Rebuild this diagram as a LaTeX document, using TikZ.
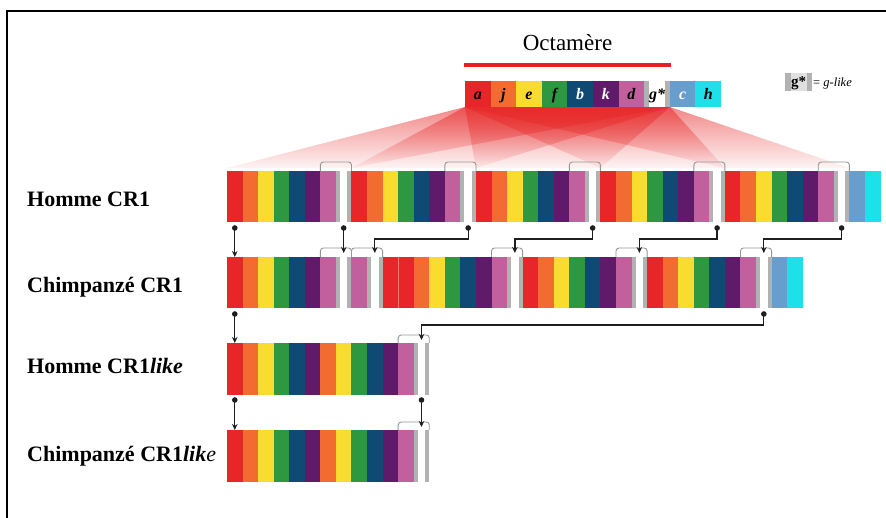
\documentclass[tikz,border=0pt]{standalone}
\usepackage{fontspec}
\setmainfont{Liberation Serif}
\usetikzlibrary{arrows.meta,fadings}
\definecolor{ca}{RGB}{232,38,42}
\definecolor{cj}{RGB}{242,107,48}
\definecolor{ce}{RGB}{249,220,46}
\definecolor{cf}{RGB}{46,152,64}
\definecolor{cb}{RGB}{14,74,116}
\definecolor{ck}{RGB}{96,26,106}
\definecolor{cd}{RGB}{194,96,158}
\definecolor{cg}{RGB}{178,178,178}
\definecolor{cc}{RGB}{104,158,206}
\definecolor{ch}{RGB}{30,224,232}
\definecolor{linkc}{RGB}{30,30,30}
\definecolor{brkc}{RGB}{150,150,150}
\definecolor{fanc}{RGB}{232,40,40}
\definecolor{octred}{RGB}{236,30,36}
\tikzfading[name=fandown, top color=transparent!45, bottom color=transparent!95]
\def\cw{15.56}
\def\gletter{g}
\newcommand\cellrow[4]{%
  \foreach \cod [count=\i from 0] in {#4} {
    \pgfmathsetmacro\xa{#1+\i*\cw}
    \pgfmathsetmacro\xb{\xa+\cw}
    \fill[fill=c\cod] (\xa,#2) rectangle (\xb,#3);
    \ifx\cod\gletter
      \fill[white] (\xa+4,#2) rectangle (\xb-4,#3);
    \fi
  }%
}
\newcommand\bracketat[4]{% x0, index of d, ybar, ytop
  \draw[brkline] ({#1+#2*\cw},#3) -- ({#1+#2*\cw},#4) -- ({#1+(#2+2)*\cw},#4) -- ({#1+(#2+2)*\cw},#3);
}
\tikzset{
  lab/.style={font=\fontsize{22}{26}\selectfont\bfseries, inner sep=0pt, anchor=base west},
  octl/.style={font=\fontsize{16}{19}\selectfont\bfseries\itshape, inner sep=0pt, anchor=base},
  link/.style={draw=linkc, line width=1.3pt, -{Stealth[length=6pt,width=5.5pt]}},
  linkdot/.style={fill=linkc},
  brkline/.style={draw=brkc, line width=0.9pt, rounded corners=3pt},
  fan/.style={fill=fanc, path fading=fandown},
}
\begin{document}
\begin{tikzpicture}[x=1pt,y=-1pt]
\useasboundingbox (0,0) rectangle (886,518);
\fill[white] (0,0) rectangle (886,518);
\def\xo{227}
% fans
\foreach \u in {0,...,4} {
  \fill[fan] (465,107) -- (670,107) -- ({\xo+(\u+1)*8*\cw},168) -- ({\xo+\u*8*\cw},168) -- cycle;
}
% octamer title
\node[font=\fontsize{23}{27}\selectfont, inner sep=0pt, anchor=base] (oct) at (567.5,50.5) {Octamère};
\draw[octred, line width=4.5pt] (464,65) -- (671,65);
% octamer cells
\foreach \cod/\lbl/\tc [count=\i from 0] in {a/a/black,j/j/black,e/e/black,f/f/black,b/b/white,k/k/white,d/d/black,g/g*/black,c/c/white,h/h/black} {
  \fill[fill=c\cod] ({465+\i*25.6},81) rectangle ({465+(\i+1)*25.6},107);
  \ifx\cod\gletter
    \fill[white] ({465+\i*25.6+5},81) rectangle ({465+(\i+1)*25.6-5},107);
  \fi
  \node[octl, text=\tc] (o\i) at ({465+(\i+0.5)*25.6},100) {\lbl};
}
% legend
\fill[cg] (785,73) rectangle (812,91);
\fill[black!12] (790.5,73) rectangle (806.5,91);
\node[font=\fontsize{15}{18}\selectfont\bfseries, inner sep=0pt, anchor=base] (lg) at (798.5,87) {g*};
\node[font=\fontsize{12.5}{15}\selectfont, inner sep=0pt, anchor=base west] (lgt) at (813,87) {= \textit{g-like}};
% brackets
\foreach \d in {6,14,22,30,38} { \bracketat{\xo}{\d}{171}{162} }
\foreach \d in {6,8,17,25,33} { \bracketat{\xo}{\d}{257}{248} }
\bracketat{\xo}{11}{343}{335}
\bracketat{\xo}{11}{430}{422}
% rows
\cellrow{\xo}{171}{222}{a,j,e,f,b,k,d,g,a,j,e,f,b,k,d,g,a,j,e,f,b,k,d,g,a,j,e,f,b,k,d,g,a,j,e,f,b,k,d,g,c,h}
\cellrow{\xo}{257}{308}{a,j,e,f,b,k,d,g,d,g,a,a,j,e,f,b,k,d,g,a,j,e,f,b,k,d,g,a,j,e,f,b,k,d,g,c,h}
\draw[red!55!white, line width=0.5pt] ({\xo+11*\cw},257) -- ({\xo+11*\cw},308);
\cellrow{\xo}{343}{395}{a,j,e,f,b,k,j,e,f,b,k,d,g}
\cellrow{\xo}{430}{482}{a,j,e,f,b,k,j,e,f,b,k,d,g}
% coordinates
\coordinate (j1) at (0,239);
\coordinate (j2) at (0,325);
\coordinate (hd0) at ({\xo+0.5*\cw},228);
\coordinate (hd7) at ({\xo+7.5*\cw},228);
\coordinate (hd15) at ({\xo+15.5*\cw},228);
\coordinate (hd23) at ({\xo+23.5*\cw},228);
\coordinate (hd31) at ({\xo+31.5*\cw},228);
\coordinate (hd39) at ({\xo+39.5*\cw},228);
\coordinate (ct0) at ({\xo+0.5*\cw},257);
\coordinate (ct7) at ({\xo+7.5*\cw},253);
\coordinate (ct9) at ({\xo+9.5*\cw},253);
\coordinate (ct18) at ({\xo+18.5*\cw},253);
\coordinate (ct26) at ({\xo+26.5*\cw},253);
\coordinate (ct34) at ({\xo+34.5*\cw},253);
\coordinate (cd0) at ({\xo+0.5*\cw},314);
\coordinate (cd34) at ({\xo+34.5*\cw},314);
\coordinate (ht0) at ({\xo+0.5*\cw},343);
\coordinate (ht12) at ({\xo+12.5*\cw},340);
\coordinate (hl0) at ({\xo+0.5*\cw},400);
\coordinate (hl12) at ({\xo+12.5*\cw},400);
\coordinate (ctl0) at ({\xo+0.5*\cw},430);
\coordinate (ctl12) at ({\xo+12.5*\cw},427);
% connectors
\draw[link] (hd0) -- (ct0);
\draw[link] (hd7) -- (ct7);
\draw[link] (hd15) -- (hd15 |- j1) -| (ct9);
\draw[link] (hd23) -- (hd23 |- j1) -| (ct18);
\draw[link] (hd31) -- (hd31 |- j1) -| (ct26);
\draw[link] (hd39) -- (hd39 |- j1) -| (ct34);
\draw[link] (cd0) -- (ht0);
\draw[link] (cd34) -- (cd34 |- j2) -| (ht12);
\draw[link] (hl0) -- (ctl0);
\draw[link] (hl12) -- (ctl12);
\foreach \p in {hd0,hd7,hd15,hd23,hd31,hd39,cd0,cd34,hl0,hl12} {
  \fill[linkdot] (\p) circle[radius=2.8pt];
}
% labels
\node[lab] (l1) at (27,206.5) {Homme CR1};
\node[lab] (l2) at (27,293) {Chimpanzé CR1};
\node[lab] (l3) at (27,373.5) {Homme CR1\textit{like}};
\node[lab] (l4) at (27,461.5) {Chimpanzé CR1\textit{lik}{\mdseries\itshape e}};
% frame
\draw[line width=1.5pt] (7,518) -- (7,11) -- (886,11);
\end{tikzpicture}
\end{document}
